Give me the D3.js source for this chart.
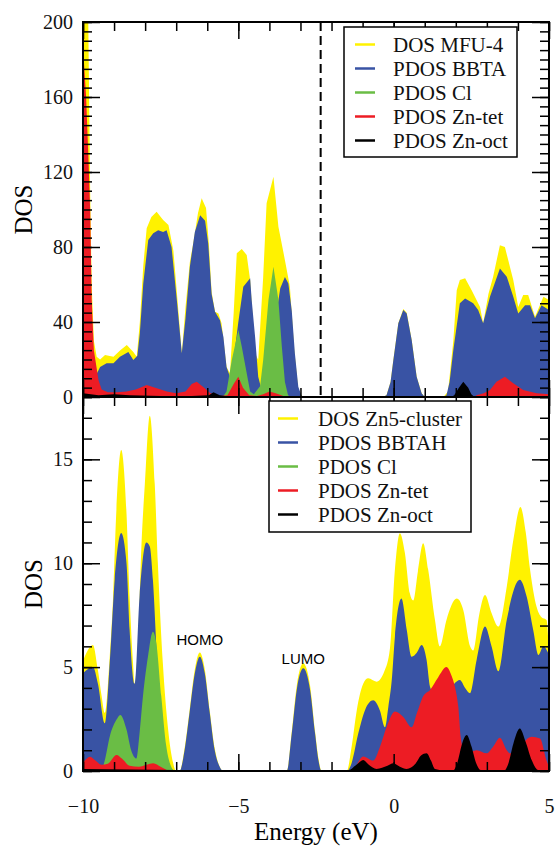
<!DOCTYPE html>
<html>
<head>
<meta charset="utf-8">
<script src="https://cdn.jsdelivr.net/npm/d3@7/dist/d3.min.js"></script>
</head>
<body style="margin:0;background:#fff">
<div id="graphic"></div>
<script>

// ---- data: [energy (eV), DOS] ----

// upper panel (MFU-4)
var mfuTotal = [[-10,240],[-9.9,230],[-9.83,200],[-9.77,110],[-9.72,60],[-9.65,30],[-9.56,21.5],[-9.45,20],[-9.29,22.4],[-9.02,21.5],[-8.8,25],[-8.59,27.7],[-8.38,24],[-8.27,21.5],[-8.17,40],[-8.06,70],[-7.95,90],[-7.8,96],[-7.63,98.8],[-7.42,94.4],[-7.25,91.7],[-7.09,78],[-6.95,50],[-6.82,23.4],[-6.7,48],[-6.56,72],[-6.45,82],[-6.3,98],[-6.18,106],[-6.04,100.8],[-5.95,82],[-5.86,56],[-5.75,45.5],[-5.64,44.6],[-5.54,39.4],[-5.38,16],[-5.27,12.7],[-5.15,45],[-5.05,76.7],[-4.89,79],[-4.73,75.7],[-4.62,62.4],[-4.46,23.4],[-4.36,19.7],[-4.2,64],[-4.09,103.3],[-3.87,117.5],[-3.71,90.8],[-3.5,73],[-3.34,58.8],[-3.2,25],[-3.07,4],[-2.95,0.5],[-2.85,0],[-0.35,0],[-0.23,1],[-0.1,8],[-0.01,19.7],[0.15,39.4],[0.31,47],[0.42,45],[0.58,30.4],[0.74,10.8],[0.9,2],[1.0,0],[1.6,0],[1.75,3],[1.92,30],[2.03,57],[2.13,62.4],[2.3,63.4],[2.51,57],[2.78,48],[2.88,39.4],[3.05,55],[3.2,64],[3.42,81],[3.58,80],[3.85,62.4],[4.01,48],[4.17,54.4],[4.33,54.4],[4.55,42.8],[4.82,53.5],[5.0,51.7]];
var mfuBBTA = [[-9.7,5],[-9.55,12.7],[-9.45,16],[-9.24,18],[-9.02,18],[-8.81,21.5],[-8.54,24],[-8.38,19.7],[-8.25,22],[-8.17,34],[-8.06,60.6],[-7.9,83.7],[-7.74,87.3],[-7.58,89],[-7.42,88],[-7.31,89],[-7.15,80],[-6.98,51.7],[-6.82,23.4],[-6.7,42],[-6.56,69.5],[-6.4,88],[-6.23,97],[-6.07,94],[-5.97,82],[-5.86,55],[-5.75,45.5],[-5.59,41],[-5.48,32],[-5.38,16],[-5.27,10.8],[-5.15,20],[-5.0,40],[-4.84,58.8],[-4.62,63.4],[-4.57,51.7],[-4.46,32],[-4.36,10.8],[-4.25,3.8],[-4.1,10],[-3.95,22],[-3.8,42],[-3.65,58],[-3.5,64],[-3.39,60.6],[-3.28,46],[-3.18,23.4],[-3.07,5.5],[-2.96,0.4],[-2.85,0],[-0.35,0],[-0.23,1],[-0.1,8],[-0.01,19.7],[0.15,39.4],[0.31,46.4],[0.42,44.6],[0.58,30.4],[0.74,10.8],[0.9,2],[1.0,0],[1.6,0],[1.7,1],[1.8,8],[1.92,25],[2.13,50],[2.3,52.6],[2.56,50],[2.72,46.4],[2.88,39.4],[3.1,53.5],[3.42,68.6],[3.64,64.2],[3.85,53.5],[4.01,44.6],[4.23,49],[4.39,49],[4.55,42],[4.76,49],[5.0,46.4]];
var mfuCl = [[-5.5,0],[-5.38,3],[-5.21,19.7],[-5.0,35.7],[-4.89,27],[-4.73,12.7],[-4.62,3],[-4.5,1.5],[-4.3,5.7],[-4.2,19.7],[-4.03,51.7],[-3.87,69.5],[-3.71,51.7],[-3.6,27],[-3.5,8],[-3.4,1],[-3.3,0]];
var mfuZnTet = [[-10,187],[-9.9,160],[-9.82,125],[-9.77,100],[-9.72,52],[-9.65,25],[-9.5,9],[-9.4,4],[-9.2,2.5],[-8.9,2.5],[-8.6,3],[-8.3,4],[-7.95,6.4],[-7.6,4.5],[-7.3,3],[-7.0,2],[-6.7,3],[-6.5,7],[-6.34,8.2],[-6.1,5],[-5.9,2],[-5.6,0.5],[-5.35,1],[-5.15,7],[-5.0,10.8],[-4.85,5],[-4.65,1],[-4.4,0.5],[-4.2,1.5],[-4.0,3],[-3.8,2],[-3.55,0.5],[-3.3,0],[2.6,0],[2.67,1],[2.9,2],[3.1,3.7],[3.31,8.2],[3.58,10.8],[3.85,7.3],[4.17,3.7],[4.6,2],[5.0,1.5]];
var mfuZnOct = [[-10,2],[-9.5,1],[-9,1.5],[-8.5,1],[-7.5,0.5],[-6.5,0.5],[-5.95,1],[-5.8,2.5],[-5.6,1],[-5.3,0.3],[-3.5,0.3],[-3,0],[1.85,0],[1.95,1],[2.1,5],[2.24,8.2],[2.4,5],[2.5,1.5],[2.6,0],[5,0]];

// lower panel (Zn5 cluster)
var clusterTotal = [[-10,5.3],[-9.85,5.8],[-9.68,6.06],[-9.52,4.86],[-9.4,3.6],[-9.3,2.8],[-9.14,5.5],[-9.03,8.4],[-8.93,12.4],[-8.77,15.45],[-8.6,12.4],[-8.5,8.4],[-8.39,5.2],[-8.34,4.2],[-8.22,6.5],[-8.12,10.8],[-8.01,13.8],[-7.85,17.1],[-7.69,13.8],[-7.59,10],[-7.43,5.2],[-7.26,2],[-7.1,0.4],[-7.0,0],[-6.89,0],[-6.73,1.1],[-6.57,2.9],[-6.4,4.9],[-6.24,5.7],[-6.08,4.9],[-5.92,2.9],[-5.76,1.1],[-5.6,0.2],[-5.49,0],[-3.44,0],[-3.28,1.9],[-3.12,4.1],[-2.91,5.18],[-2.69,4.1],[-2.53,1.9],[-2.42,0.6],[-2.32,0],[-1.51,0],[-1.35,1.2],[-1.19,2.9],[-0.98,4.2],[-0.82,4.46],[-0.55,4.3],[-0.3,4.8],[-0.12,5.9],[0.04,9.7],[0.2,11.44],[0.36,10.5],[0.52,8.55],[0.63,8.2],[0.78,9.6],[0.95,10.96],[1.11,9.7],[1.33,7.27],[1.49,6.0],[1.7,7.27],[2.03,8.3],[2.24,7.75],[2.46,6.0],[2.56,5.8],[2.75,7.5],[2.94,8.47],[3.15,7.6],[3.37,6.95],[3.64,8.87],[3.85,11.1],[4.08,12.7],[4.25,11.5],[4.39,9.7],[4.6,7.9],[4.76,7.4],[4.92,7.27],[5.0,5.8]];
var clusterBBTAH = [[-10,4.7],[-9.85,4.9],[-9.68,5.0],[-9.52,4.2],[-9.3,2.3],[-9.14,5.2],[-8.98,9.2],[-8.77,11.45],[-8.6,10],[-8.5,6.8],[-8.34,4.2],[-8.18,8.4],[-7.96,11.0],[-7.85,10.8],[-7.75,9.2],[-7.6,5],[-7.45,2],[-7.3,0.5],[-7.15,0],[-6.89,0],[-6.73,1.0],[-6.57,2.8],[-6.4,4.7],[-6.24,5.5],[-6.08,4.7],[-5.92,2.8],[-5.76,1.0],[-5.6,0.2],[-5.49,0],[-3.44,0],[-3.28,1.8],[-3.12,3.9],[-2.91,4.94],[-2.69,3.9],[-2.53,1.8],[-2.42,0.5],[-2.32,0],[-1.5,0],[-1.35,0.4],[-1.14,1.8],[-0.92,2.94],[-0.66,3.4],[-0.44,2.9],[-0.28,2.1],[-0.17,3.1],[-0.06,4.4],[0.04,6.46],[0.25,8.3],[0.42,6.8],[0.58,5.5],[0.75,5.7],[0.9,6.06],[1.06,5.34],[1.17,4.06],[1.4,3.5],[1.7,3.6],[1.95,4.2],[2.13,4.38],[2.3,4.0],[2.46,3.74],[2.67,5.34],[2.94,6.95],[3.15,6.0],[3.37,4.8],[3.64,7.27],[4.06,9.2],[4.28,8.4],[4.49,6.8],[4.66,5.58],[4.82,6.0],[4.98,5.66],[5.0,5.6]];
var clusterCl = [[-9.4,0],[-9.3,0.5],[-9.14,1.65],[-8.93,2.45],[-8.8,2.7],[-8.6,2.0],[-8.45,1.0],[-8.28,0.6],[-8.18,1.8],[-8.07,3.6],[-7.91,5.5],[-7.75,6.7],[-7.64,6.15],[-7.48,3.6],[-7.32,1.2],[-7.16,0.2],[-7.05,0]];
var clusterZnTet = [[-10,0.4],[-9.77,0.69],[-9.6,0.5],[-9.4,0.3],[-9.2,0.35],[-8.92,0.77],[-8.75,0.6],[-8.5,0.25],[-8.2,0.2],[-7.95,0.3],[-7.74,0.37],[-7.5,0.2],[-7.2,0],[-1.3,0],[-1.19,0.3],[-0.98,0.7],[-0.66,0.5],[-0.44,1.17],[-0.23,2.1],[0.04,2.86],[0.31,2.6],[0.58,2.1],[0.75,2.8],[0.95,3.6],[1.17,3.9],[1.43,4.5],[1.7,5.0],[1.86,4.6],[1.98,4.0],[2.08,3.1],[2.16,1.6],[2.25,1.0],[2.35,0.85],[2.67,1.0],[2.99,0.85],[3.2,1.17],[3.42,1.6],[3.64,1.0],[3.74,0.85],[4.0,1.0],[4.2,1.4],[4.44,1.65],[4.71,1.57],[4.92,0.5],[5.0,0.2]];
var clusterZnOct = [[-10,0.1],[-7,0.05],[-1.5,0],[-1.2,0.3],[-0.98,0.53],[-0.8,0.3],[-0.55,0.1],[-0.2,0.25],[-0.01,0.37],[0.2,0.2],[0.42,0.1],[0.7,0.35],[0.88,0.75],[1.06,0.85],[1.2,0.5],[1.33,0.1],[1.9,0],[2.05,0.4],[2.2,1.3],[2.35,1.73],[2.5,1.2],[2.65,0.4],[2.8,0.05],[3.55,0],[3.7,0.4],[3.85,1.3],[4.06,2.05],[4.25,1.4],[4.45,0.5],[4.65,0.05],[5.0,0]];

var topLabels = ["DOS MFU-4", "PDOS BBTA", "PDOS Cl", "PDOS Zn-tet", "PDOS Zn-oct"];
var botLabels = ["DOS Zn5-cluster", "PDOS BBTAH", "PDOS Cl", "PDOS Zn-tet", "PDOS Zn-oct"];
var colors = ["#fff200", "#3953a4", "#6abd45", "#ed1c24", "#000000"];

var xMajor = [-10, -5, 0, 5];
var topMajor = [0, 40, 80, 120, 160, 200];
var botMajor = [0, 5, 10, 15];
var fermiTop = -2.35;

// ---- layout ----
var width = 557, height = 847;
var left = 83, right = 549;
var topY = [397, 22], botY = [771, 397];
var serif = "Liberation Serif";
var sans = "Liberation Sans";

var svg = d3.select('#graphic')
  .append('svg')
  .attr("width", width)
  .attr("height", height);

var x = d3.scaleLinear().domain([-10, 5]).range([left, right]);
var yT = d3.scaleLinear().domain([0, 200]).range(topY);
var yB = d3.scaleLinear().domain([0, 18]).range(botY);

var xMinor = d3.range(-10, 5.01, 1);

function panel(id, y, series, curve, yMinor, yMajorVals, showX){

  svg.append("clipPath").attr("id", id)
    .append("rect")
    .attr("x", left).attr("y", y.range()[1])
    .attr("width", right - left).attr("height", y.range()[0] - y.range()[1]);

  var area = d3.area()
    .x(function(d){ return x(d[0]); })
    .y0(y(0))
    .y1(function(d){ return y(d[1]); })
    .curve(curve);

  svg.append("g")
    .attr("clip-path", "url(#" + id + ")")
    .selectAll("path")
    .data(series)
    .enter().append("path")
    .attr("d", area)
    .attr("fill", function(d, i){ return colors[i]; });

  // ticks, all pointing inwards
  function ax(a, tr, vals, size, labels){
    var g = svg.append("g")
      .attr("transform", tr)
      .call(a.tickValues(vals).tickSize(size).tickFormat(labels ? d3.format("d") : ""));
    g.select(".domain").remove();
    g.selectAll("line").attr("stroke-width", 1.5);
    g.selectAll("text")
      .style("font-family", serif)
      .style("font-size", "20px")
      .attr("fill", "#111");
    return g;
  }
  var b = y.range()[0], t = y.range()[1];
  ax(d3.axisBottom(x).tickPadding(28), "translate(0," + b + ")", xMinor, -9, false);
  ax(d3.axisBottom(x).tickPadding(28), "translate(0," + b + ")", xMajor, -17, showX);
  ax(d3.axisTop(x), "translate(0," + t + ")", xMinor, -9, false);
  ax(d3.axisTop(x), "translate(0," + t + ")", xMajor, -17, false);
  ax(d3.axisLeft(y).tickPadding(10), "translate(" + left + ",0)", yMinor, -9, false);
  ax(d3.axisLeft(y).tickPadding(10), "translate(" + left + ",0)", yMajorVals, -17, true);
  ax(d3.axisRight(y), "translate(" + right + ",0)", yMinor, -9, false);
  ax(d3.axisRight(y), "translate(" + right + ",0)", yMajorVals, -17, false);

  svg.append("rect")
    .attr("x", left).attr("y", t)
    .attr("width", right - left).attr("height", b - t)
    .attr("fill", "none").attr("stroke", "#000").attr("stroke-width", 2);
}

panel("clipTop", yT, [mfuTotal, mfuBBTA, mfuCl, mfuZnTet, mfuZnOct], d3.curveLinear,
  d3.range(0, 200.1, 5), topMajor, false);
panel("clipBot", yB, [clusterTotal, clusterBBTAH, clusterCl, clusterZnTet, clusterZnOct], d3.curveMonotoneX,
  d3.range(0, 18.1, 1), botMajor, true);

// dashed line in the upper panel
svg.append("line")
  .attr("x1", x(fermiTop)).attr("x2", x(fermiTop))
  .attr("y1", yT(200)).attr("y2", yT(0))
  .attr("stroke", "#000").attr("stroke-width", 2)
  .attr("stroke-dasharray", "9,5");

// legends
function legend(x0, y0, w, h, lineX, textX, labels){
  var g = svg.append("g").attr("class", "legend");
  g.append("rect")
    .attr("x", x0).attr("y", y0).attr("width", w).attr("height", h)
    .attr("fill", "#fff").attr("stroke", "#000").attr("stroke-width", 1.5);
  labels.forEach(function(l, i){
    var yy = y0 + 25 + i * 24;
    g.append("line")
      .attr("x1", lineX[0]).attr("x2", lineX[1])
      .attr("y1", yy - 7.5).attr("y2", yy - 7.5)
      .attr("stroke", colors[i]).attr("stroke-width", 2.5);
    g.append("text")
      .attr("x", textX).attr("y", yy)
      .style("font-family", serif)
      .style("font-size", "21px")
      .attr("fill", "#111")
      .text(l);
  });
}
legend(344, 27, 173, 130, [355, 375], 393, topLabels);
legend(269, 401, 202, 131, [278, 298], 318, botLabels);

// axis titles
svg.append("text")
  .attr("transform", "translate(32," + ((topY[0] + topY[1]) / 2) + ") rotate(-90)")
  .attr("text-anchor", "middle")
  .style("font-family", serif).style("font-size", "25px")
  .text("DOS");

svg.append("text")
  .attr("transform", "translate(42," + ((botY[0] + botY[1]) / 2) + ") rotate(-90)")
  .attr("text-anchor", "middle")
  .style("font-family", serif).style("font-size", "25px")
  .text("DOS");

svg.append("text")
  .attr("x", (left + right) / 2).attr("y", 840)
  .attr("text-anchor", "middle")
  .style("font-family", serif).style("font-size", "25px")
  .text("Energy (eV)");

// orbital labels
svg.append("text")
  .attr("x", x(-6.24)).attr("y", 645)
  .attr("text-anchor", "middle")
  .style("font-family", sans).style("font-size", "15px")
  .text("HOMO");

svg.append("text")
  .attr("x", x(-2.91)).attr("y", 664)
  .attr("text-anchor", "middle")
  .style("font-family", sans).style("font-size", "15px")
  .text("LUMO");

</script>
</body>
</html>
